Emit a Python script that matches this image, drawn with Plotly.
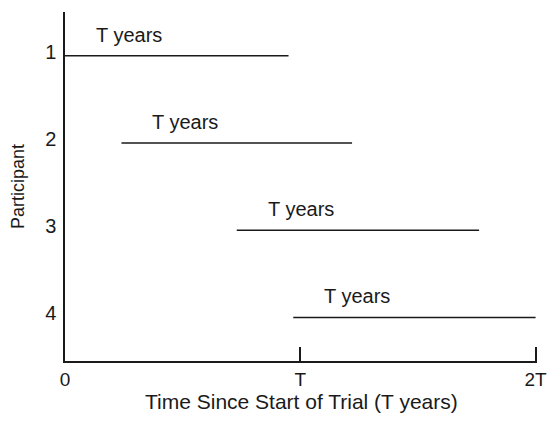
import plotly.graph_objects as go

# participant rows and follow-up windows (in units of T)
participants = [1, 2, 3, 4]
start_T = [0.0, 0.24, 0.73, 0.97]
end_T = [0.95, 1.22, 1.76, 2.0]
span_labels = ["T years", "T years", "T years", "T years"]

x_tickvals = [0, 1, 2]
x_ticktext = ["0", "T", "2T"]
x_title = "Time Since Start of Trial (T years)"

FONT = "Liberation Sans, Arial, sans-serif"
INK = "#1a1a1a"

fig = go.Figure()
for p, s, e in zip(participants, start_T, end_T):
    fig.add_trace(go.Scatter(x=[s, e], y=[p, p], mode="lines",
                             line=dict(color=INK, width=1.5),
                             showlegend=False, hoverinfo="skip", cliponaxis=False))

for p, s, lab in zip(participants, start_T, span_labels):
    fig.add_annotation(x=s, y=p, text=lab, showarrow=False,
                       xanchor="left", yanchor="middle", xshift=29, yshift=21,
                       font=dict(size=20, color=INK, family=FONT))

# x-axis title as an annotation so it sits a little closer to the tick labels
fig.add_annotation(x=0.5, y=0, xref="paper", yref="paper", text=x_title,
                   showarrow=False, xanchor="center", yanchor="top", yshift=-27,
                   font=dict(size=21, color=INK, family=FONT))

fig.update_layout(
    width=552, height=423,
    margin=dict(l=65, r=15, t=12, b=62, autoexpand=False),
    plot_bgcolor="white", paper_bgcolor="white",
    font=dict(family=FONT, size=20, color=INK),
    showlegend=False,
)
fig.update_xaxes(range=[0, 2.006], tickvals=x_tickvals, ticktext=x_ticktext,
                 showgrid=False, zeroline=False, showline=True, automargin=False,
                 linecolor=INK, linewidth=1.5, tickfont=dict(size=19),
                 ticks="inside", ticklen=14, tickwidth=1.5, tickcolor=INK)
fig.update_yaxes(range=[4.5, 0.5], tickvals=participants,
                 ticktext=[str(p) for p in participants],
                 showgrid=False, zeroline=False, showline=True, automargin=False,
                 linecolor=INK, linewidth=1.5, ticks="", ticklabelstandoff=3,
                 ticklabelshift=4,
                 title=dict(text="Participant", font=dict(size=18), standoff=16))

fig.write_html("out.html", config={"displayModeBar": False},
               post_script="document.body.style.margin='0';")
